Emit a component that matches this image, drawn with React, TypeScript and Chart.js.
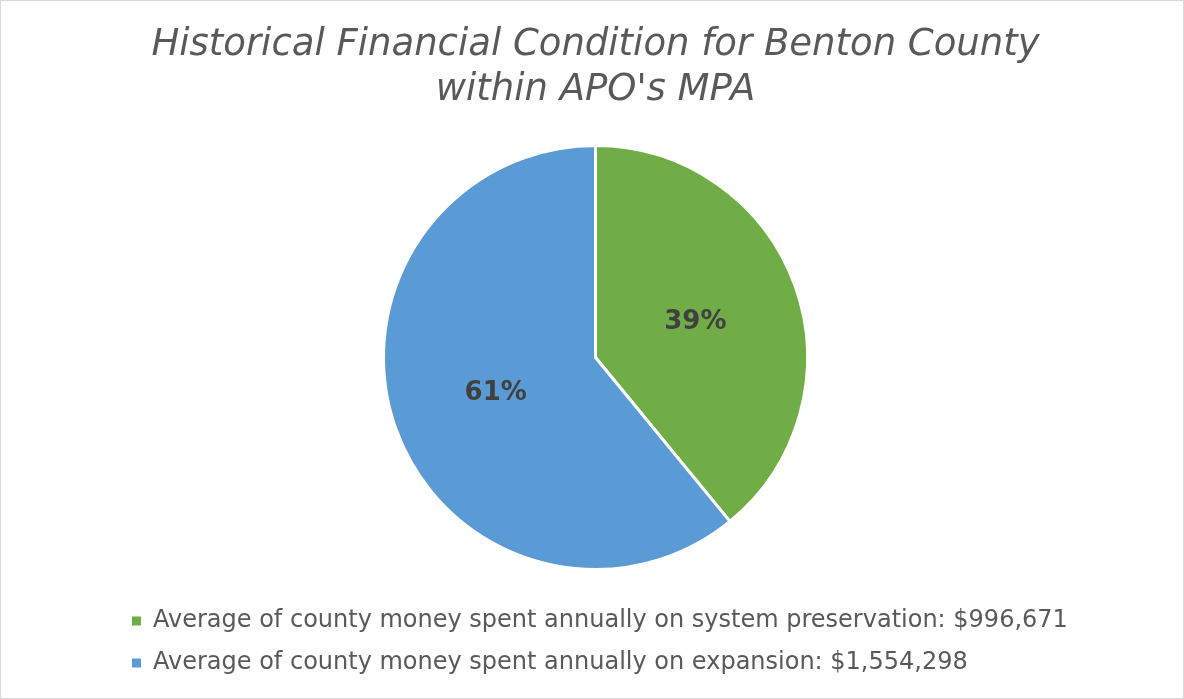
import React, { useEffect, useRef } from "react";
import { Chart, registerables } from "chart.js";

Chart.register(...registerables);

const titleLines = ["Historical Financial Condition for Benton County", "within APO's MPA"];
const categories = [
  "Average of county money spent annually on system preservation: $996,671",
  "Average of county money spent annually on expansion: $1,554,298",
];
const amounts = [996671, 1554298];
const sliceColors = ["#70AD47", "#5B9BD5"];

const labelPlugin = {
  id: "pctLabels",
  afterDatasetsDraw(chart: any) {
    const ctx = chart.ctx;
    const meta = chart.getDatasetMeta(0);
    const data = chart.data.datasets[0].data as number[];
    const total = data.reduce((a, b) => a + b, 0);
    ctx.save();
    ctx.font = "bold 26px 'DejaVu Sans'";
    ctx.fillStyle = "#404040";
    ctx.textAlign = "center";
    ctx.textBaseline = "middle";
    meta.data.forEach((arc: any, i: number) => {
      const p = arc.getCenterPoint();
      const pct = Math.round((data[i] / total) * 100) + "%";
      ctx.fillText(pct, p.x, p.y);
    });
    ctx.restore();
  },
};

export default function App() {
  const ref = useRef<HTMLCanvasElement | null>(null);
  useEffect(() => {
    if (!ref.current) return;
    const defaultLabels = (Chart as any).overrides.pie.plugins.legend.labels.generateLabels;
    const chart = new Chart(ref.current, {
      type: "pie",
      data: {
        labels: categories,
        datasets: [
          {
            data: amounts,
            backgroundColor: sliceColors,
            borderColor: "#FFFFFF",
            borderWidth: 3,
            radius: 212,
          } as any,
        ],
      },
      options: {
        animation: false,
        responsive: true,
        maintainAspectRatio: false,
        layout: { padding: { left: 113, right: 106, top: 12, bottom: 13 } },
        plugins: {
          title: {
            display: true,
            text: titleLines,
            color: "#595959",
            font: { family: "'DejaVu Sans'", size: 37, style: "italic", weight: "normal", lineHeight: 1.21 },
            padding: { top: 9.85, bottom: 11.55 },
          },
          legend: {
            display: true,
            position: "bottom",
            align: "start",
            labels: {
              color: "#595959",
              font: { family: "'DejaVu Sans'", size: 24 },
              boxWidth: 9,
              boxHeight: 9,
              padding: 18,
              generateLabels: (c: any) =>
                defaultLabels(c).map((item: any) => ({ ...item, lineWidth: 0, strokeStyle: "rgba(0,0,0,0)" })),
            },
          },
          tooltip: { enabled: false },
        },
      },
      plugins: [labelPlugin],
    });
    return () => chart.destroy();
  }, []);
  return (
    <div
      style={{
        position: "absolute",
        left: 0,
        top: 0,
        width: 1184,
        height: 699,
        boxSizing: "border-box",
        border: "1px solid #d9d9d9",
        background: "#ffffff",
      }}
    >
      <div style={{ position: "relative", width: "100%", height: "100%" }}>
        <canvas ref={ref} />
      </div>
    </div>
  );
}
